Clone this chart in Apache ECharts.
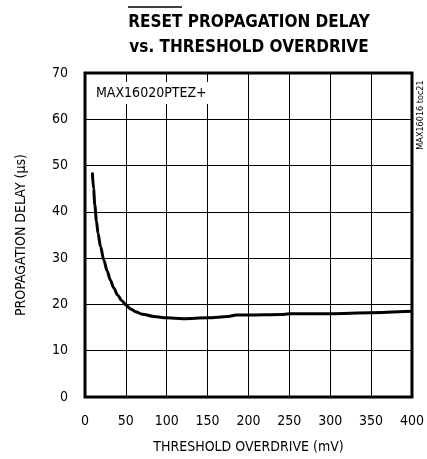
<!DOCTYPE html>
<html>
<head>
<meta charset="utf-8">
<script src="https://cdn.jsdelivr.net/npm/echarts@6/dist/echarts.min.js"></script>
<style>
html,body{margin:0;padding:0;background:#fff;}
#c{width:427px;height:459px;}
</style>
</head>
<body>
<div id="c"></div>
<script>
var xValues = [9, 10.5, 12, 14, 16, 19, 23, 27, 31, 35, 40, 45, 50, 56, 62, 70, 84, 100, 120, 150, 175, 185, 200, 240, 250, 300, 350, 400];
var delayValues = [48.5, 45, 41.5, 38, 35.3, 32.5, 29.6, 27.3, 25.3, 23.6, 22, 20.8, 19.9, 19.0, 18.4, 17.9, 17.4, 17.1, 16.9, 17.1, 17.4, 17.7, 17.7, 17.8, 18.0, 18.0, 18.2, 18.5];
var titleLines = ['RESET PROPAGATION DELAY', 'vs. THRESHOLD OVERDRIVE'];
var xName = 'THRESHOLD OVERDRIVE (mV)';
var yName = 'PROPAGATION DELAY (\u00b5s)';
var seriesLabel = 'MAX16020PTEZ+';
var tocLabel = 'MAX16016 toc21';

var FONT = '"Liberation Sans Narrow", "DejaVu Sans Condensed", "Liberation Sans", sans-serif';
var chart = echarts.init(document.getElementById('c'));
var option = {
  animation: false,
  backgroundColor: '#fff',
  grid: {left: 85, top: 73, width: 328, height: 327, show: true, borderColor: '#000', borderWidth: 3, backgroundColor: 'transparent'},
  xAxis: {
    type: 'value', min: 0, max: 400, interval: 50,
    name: xName, nameLocation: 'middle', nameGap: 43,
    nameTextStyle: {fontFamily: FONT, fontSize: 14, color: '#000'},
    axisLine: {show: false}, axisTick: {show: false},
    axisLabel: {fontFamily: FONT, fontSize: 14, color: '#000', margin: 17},
    splitLine: {show: true, lineStyle: {color: '#000', width: 1}}
  },
  yAxis: {
    type: 'value', min: 0, max: 70, interval: 10,
    name: yName, nameLocation: 'middle', nameGap: 57,
    nameTextStyle: {fontFamily: FONT, fontSize: 14, color: '#000'},
    axisLine: {show: false}, axisTick: {show: false},
    axisLabel: {fontFamily: FONT, fontSize: 14, color: '#000', margin: 17},
    splitLine: {show: true, lineStyle: {color: '#000', width: 1}}
  },
  graphic: [
    {type: 'text', x: 249, y: 10, style: {text: titleLines.join('\n'), fontFamily: FONT, fontWeight: 'bold', fontSize: 17, lineHeight: 25, fill: '#000', align: 'center', verticalAlign: 'top'}, z: 11},
    {type: 'line', shape: {x1: 128, y1: 7, x2: 182, y2: 7}, style: {stroke: '#000', lineWidth: 1.5}, z: 11},
    {type: 'rect', shape: {x: 90, y: 82, width: 122, height: 22}, style: {fill: '#fff'}, z: 10},
    {type: 'text', x: 96, y: 93, style: {text: seriesLabel, fontFamily: FONT, fontSize: 14, fill: '#000', verticalAlign: 'middle'}, z: 11},
    {type: 'text', x: 421, y: 115, rotation: Math.PI / 2, style: {text: tocLabel, fontFamily: FONT, fontSize: 9, fill: '#000', align: 'center', verticalAlign: 'middle'}, z: 11}
  ],
  series: [{
    type: 'line',
    data: xValues.map(function (x, i) { return [x, delayValues[i]]; }),
    smooth: 0.3,
    smoothMonotone: 'x',
    showSymbol: false,
    lineStyle: {color: '#000', width: 3},
    z: 5
  }]
};
chart.setOption(option);
</script>
</body>
</html>
